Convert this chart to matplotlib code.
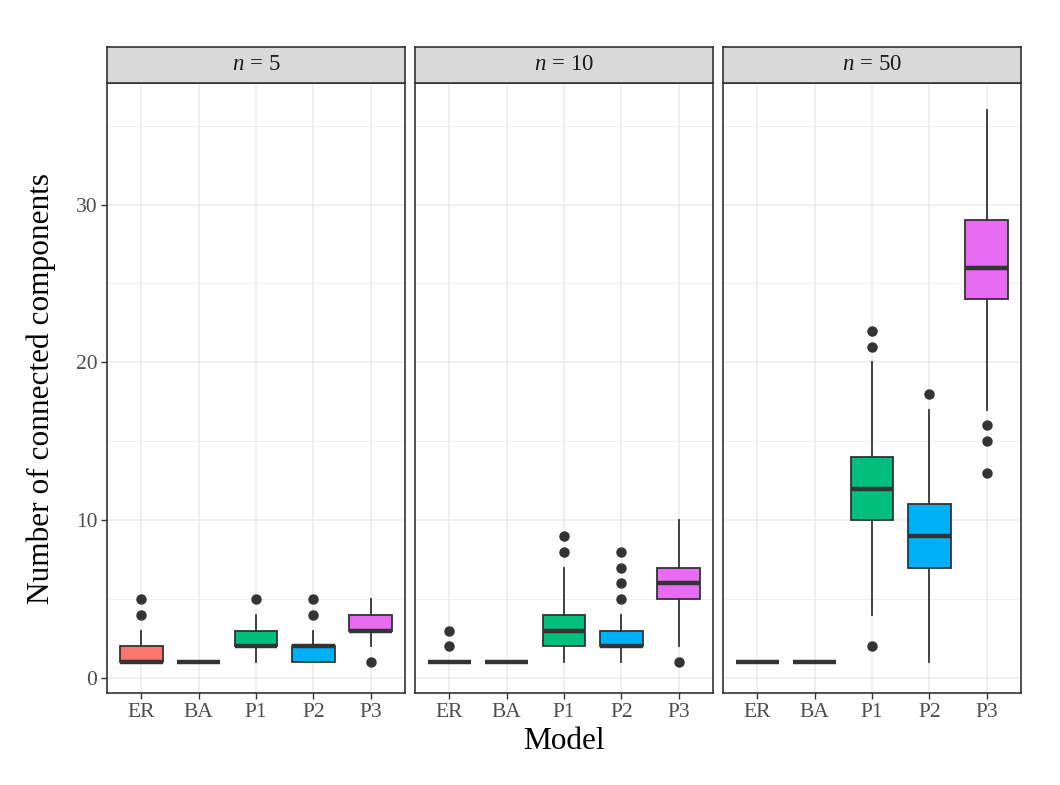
import matplotlib
matplotlib.use("Agg")
import matplotlib.pyplot as plt
from matplotlib.ticker import MultipleLocator

plt.rcParams["font.family"] = ["Liberation Serif", "DejaVu Serif"]
plt.rcParams["mathtext.fontset"] = "custom"
plt.rcParams["mathtext.rm"] = "Liberation Serif"
plt.rcParams["mathtext.it"] = "Liberation Serif:italic"

models = ["ER", "BA", "P1", "P2", "P3"]
colors = ["#F8766D", "#A3A500", "#00BF7D", "#00B0F6", "#E76BF3"]
sizes = [5, 10, 50]

# five-number summaries: (whislo, q1, med, q3, whishi)
summary = {
    5: [(1, 1, 1, 2, 3), (1, 1, 1, 1, 1), (1, 2, 2, 3, 4), (1, 1, 2, 2, 3), (2, 3, 3, 4, 5)],
    10: [(1, 1, 1, 1, 1), (1, 1, 1, 1, 1), (1, 2, 3, 4, 7), (1, 2, 2, 3, 4), (2, 5, 6, 7, 10)],
    50: [(1, 1, 1, 1, 1), (1, 1, 1, 1, 1), (4, 10, 12, 14, 20), (1, 7, 9, 11, 17), (17, 24, 26, 29, 36)],
}
outliers = {
    5: [[4, 5], [], [5], [4, 5], [1]],
    10: [[2, 3], [], [8, 9], [5, 6, 7, 8], [1]],
    50: [[], [], [2, 21, 22], [18], [13, 15, 16]],
}

W, H = 1060, 785
fig = plt.figure(figsize=(W / 100, H / 100), dpi=100)

lefts = [107, 415, 723]
pw = 298
top, bot = 83, 693
strip_h = 36
edge = "#333333"

for i, n in enumerate(sizes):
    ax = fig.add_axes([lefts[i] / W, (H - bot) / H, pw / W, (bot - top) / H])
    stats = []
    for j, m in enumerate(models):
        lo, q1, med, q3, hi = summary[n][j]
        stats.append(dict(label=m, whislo=lo, q1=q1, med=med, q3=q3, whishi=hi,
                          fliers=outliers[n][j]))
    bp = ax.bxp(stats, positions=range(1, 6), widths=0.75, patch_artist=True,
                showcaps=False,
                boxprops=dict(edgecolor=edge, linewidth=1.3),
                medianprops=dict(color=edge, linewidth=3.2, solid_capstyle="butt"),
                whiskerprops=dict(color=edge, linewidth=1.3),
                flierprops=dict(marker="o", markerfacecolor=edge, markeredgecolor=edge,
                                markersize=6.5))
    for patch, c in zip(bp["boxes"], colors):
        patch.set_facecolor(c)
    ax.set_xlim(0.4, 5.6)
    ax.set_ylim(-0.95, 37.7)
    ax.yaxis.set_major_locator(MultipleLocator(10))
    ax.yaxis.set_minor_locator(MultipleLocator(5))
    ax.grid(True, which="major", color="#EBEBEB", linewidth=1.1)
    ax.grid(True, which="minor", axis="y", color="#EBEBEB", linewidth=0.55)
    ax.set_axisbelow(True)
    ax.tick_params(axis="both", which="major", length=4, width=1, color=edge,
                   labelsize=15.5, labelcolor="#4D4D4D", pad=3)
    ax.tick_params(axis="y", which="minor", length=0)
    for s in ax.spines.values():
        s.set_color(edge)
        s.set_linewidth(1.2)
    if i > 0:
        ax.tick_params(axis="y", which="major", length=0, labelleft=False)
    else:
        ax.set_ylabel("Number of connected components", fontsize=22.5, labelpad=14)
    if i == 1:
        ax.set_xlabel("Model", fontsize=22.5, labelpad=4)

    # facet strip
    sax = fig.add_axes([lefts[i] / W, (H - top) / H, pw / W, strip_h / H])
    sax.set_facecolor("#D9D9D9")
    sax.set_xticks([])
    sax.set_yticks([])
    for s in sax.spines.values():
        s.set_color(edge)
        s.set_linewidth(1.2)
    sax.text(0.5, 0.5, r"$n\,=\,%d$" % n, ha="center", va="center", fontsize=16.5,
             color="#1A1A1A", transform=sax.transAxes)

fig.savefig("out.png", dpi=100, facecolor="white")
